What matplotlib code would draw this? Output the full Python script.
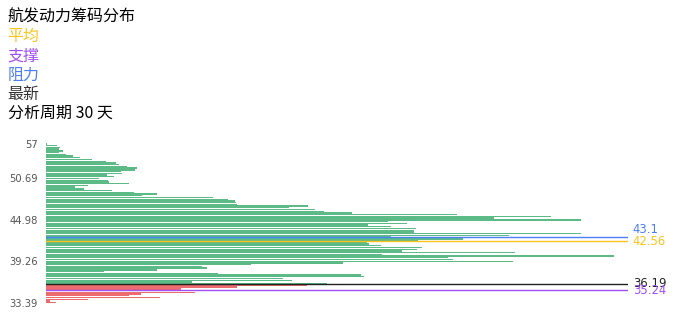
import matplotlib
matplotlib.use('Agg')
import matplotlib.pyplot as plt
import numpy as np

# chip volume per price bin, bottom (lowest price) to top
chips = [10, 4, 42, 114, 83, 95, 149, 234, 135, 191, 261,
         281, 146, 246, 237, 318, 315, 172, 58, 111, 161, 156,
         205, 297, 467, 407, 402, 568, 336, 469, 356, 371, 376,
         335, 323, 321, 372, 417, 345, 463, 535, 368, 368, 370,
         345, 322, 361, 342, 535, 448, 505, 411, 306, 278, 269,
         243, 262, 191, 190, 189, 182, 167, 96, 111, 88, 66,
         38, 29, 42, 83, 63, 62, 53, 68, 61, 76, 75,
         89, 91, 81, 73, 70, 60, 46, 34, 27, 20, 13,
         17, 13, 14, 11, 1]

tick_labels = ['33.39', '39.26', '44.98', '50.69', '57']
price_lo, price_hi = 33.39, 57.0

avg_price = 42.56
support = 35.24
resist = 43.1
latest = 36.19
period_days = 30

GREEN = '#25a35f'
RED = '#e8383d'
C_AVG = '#fcc21b'
C_SUP = '#a04ef6'
C_RES = '#4b7ff6'
C_LAST = '#222222'

cjk = ['Noto Sans CJK SC', 'DejaVu Sans']

n = len(chips)
idx = np.arange(n)
prices = np.linspace(price_lo, price_hi, n)
colors = [RED if p < latest else GREEN for p in prices]


def to_idx(v):
    return np.interp(v, [price_lo, price_hi], [0, n - 1])


fig = plt.figure(figsize=(6.96, 3.2), dpi=100)
ax = fig.add_axes([0.0661, 0.0488, 0.8362, 0.5066])

ax.barh(idx, chips, height=0.78, color=colors, alpha=0.75, linewidth=0)

for v, c in [(resist, C_RES), (avg_price, C_AVG), (latest, C_LAST), (support, C_SUP)]:
    ax.axhline(to_idx(v), color=c, lw=1.0)

ax.set_xlim(0, 582)
ax.set_ylim(-1, n)

ticks = list(range(0, n, 24)) + [n - 1]
ax.set_yticks(ticks)
ax.set_yticklabels(tick_labels, fontsize=7.2, color='#555555')
ax.tick_params(axis='y', length=0, pad=6)
ax.xaxis.set_visible(False)
for s in ax.spines.values():
    s.set_visible(False)

# value labels at right end of the lines
tr = ax.get_yaxis_transform()
ax.text(1.008, to_idx(resist) + 1.0, f'{resist:g}', transform=tr, color=C_RES,
        fontsize=8.4, va='bottom', ha='left')
for v, c in [(avg_price, C_AVG), (latest, C_LAST), (support, C_SUP)]:
    ax.text(1.008, to_idx(v), f'{v:g}', transform=tr, color=c,
            fontsize=8.4, va='center', ha='left')

# header / legend text
lines = [('航发动力筹码分布', 'black'), ('平均', C_AVG), ('支撑', C_SUP),
         ('阻力', C_RES), ('最新', '#333333'), (f'分析周期 {period_days} 天', 'black')]
for i, (t, c) in enumerate(lines):
    fig.text(7.5 / 696, 1 - (17 + i * 19.3) / 320, t, color=c, fontsize=11.5,
             family=cjk, va='center', ha='left')

fig.savefig('out.png', dpi=100)
